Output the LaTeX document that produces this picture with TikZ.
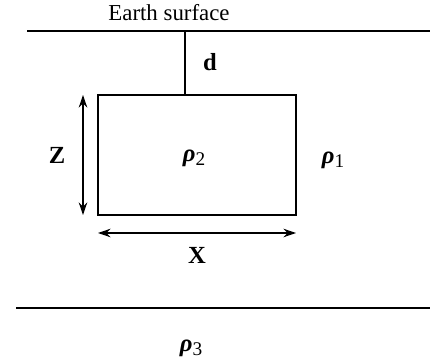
\documentclass[tikz,border=0pt]{standalone}
\usepackage{fontspec}
\setmainfont{Liberation Serif}
\usepackage{tikz}
\usetikzlibrary{arrows.meta, positioning}

\newcommand{\rhosub}[1]{{\bfseries\itshape ρ}\raisebox{-0.35ex}{\fontsize{11}{12}\selectfont #1}}

\begin{document}
\begin{tikzpicture}[
  x=0.02cm, y=-0.02cm,
  line width=0.95pt,
  lbl/.style={font=\fontsize{13}{15}\selectfont, inner sep=1pt},
  big/.style={font=\fontsize{14}{16}\selectfont\bfseries, inner sep=1pt},
  dim/.style={{Stealth[length=2.5mm, width=1.7mm]}-{Stealth[length=2.5mm, width=1.7mm]}, line width=0.75pt}
]
\useasboundingbox (0,0) rectangle (430,361);

% layer boundaries
\coordinate (surfL) at (27,31);
\coordinate (surfR) at (430,31);
\coordinate (baseL) at (16,308);
\coordinate (baseR) at (430,308);
\draw (surfL) -- (surfR);
\draw (baseL) -- (baseR);

% buried block
\node[draw, inner sep=0pt, minimum width=3.96cm, minimum height=2.4cm] (block) at (197,155) {};
\coordinate (dtop) at (185,31);
\coordinate (dbot) at (185,95);
\draw (dtop) -- (dbot);

% dimensions
\coordinate (zt) at (83,95);
\coordinate (zb) at (83,215);
\coordinate (xl) at (98,233);
\coordinate (xr) at (296,233);
\draw[dim] (zt) -- (zb);
\draw[dim] (xl) -- (xr);

% labels
\node[lbl] (surface) at (169,13) {Earth surface};
\node[big] (depth) at (210,62) {d};
\node[big] (zlbl) at (57,155) {Z};
\node[big] (xlbl) at (197,255) {X};
\node[big, font=\fontsize{14}{16}\selectfont] (rho2) at (194,158) {\rhosub{2}};
\node[big, font=\fontsize{14}{16}\selectfont] (rho1) at (333,160) {\rhosub{1}};
\node[big, font=\fontsize{14}{16}\selectfont] (rho3) at (191,348) {\rhosub{3}};
\end{tikzpicture}
\end{document}
